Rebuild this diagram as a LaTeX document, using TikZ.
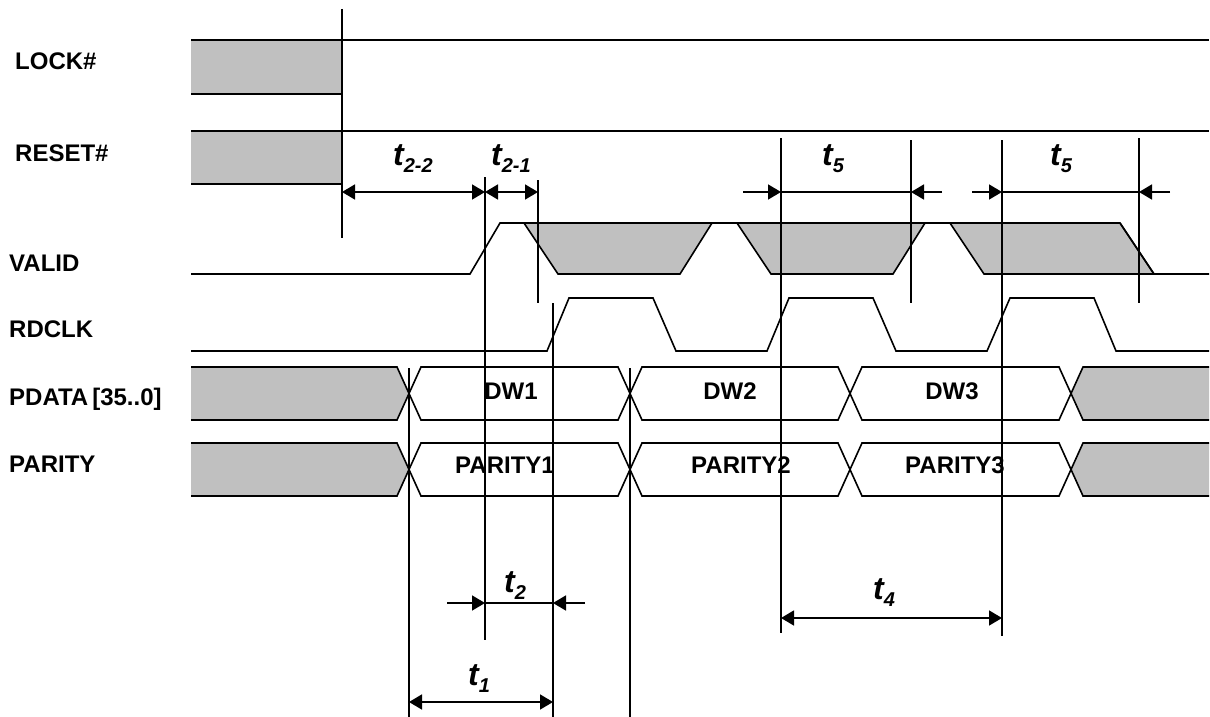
\documentclass[tikz,border=0pt]{standalone}
\usepackage{fontspec}
\setmainfont{Liberation Sans}
\usetikzlibrary{arrows.meta}
\definecolor{sig}{RGB}{192,192,192}
\newcommand{\tsym}[1]{t\raisebox{-7pt}{\fontsize{20}{21}\selectfont #1}}
\tikzset{
  wave/.style={line width=1.6pt, line join=miter},
  guide/.style={line width=1.6pt},
  dimboth/.style={line width=1.6pt, {Triangle[length=13pt,width=15pt]}-{Triangle[length=13pt,width=15pt]}},
  dimone/.style={line width=1.6pt, -{Triangle[length=13pt,width=15pt]}},
  dimline/.style={line width=1.6pt},
  siglabel/.style={anchor=base west, inner sep=0pt, font=\fontsize{24}{26}\selectfont\bfseries},
  buslabel/.style={anchor=base, inner sep=0pt, font=\fontsize{24}{26}\selectfont\bfseries},
  tlabel/.style={anchor=base west, inner sep=0pt, font=\fontsize{32}{34}\selectfont\bfseries\itshape},
}
\begin{document}
\begin{tikzpicture}[x=1pt,y=-1pt]
\useasboundingbox (0,0) rectangle (1210,717);

% ---------- signal labels
\node[siglabel] (lLOCK)  at (15,70)  {LOCK\#};
\node[siglabel] (lRESET) at (15,161) {RESET\#};
\node[siglabel] (lVALID) at (9,271)  {VALID};
\node[siglabel] (lRDCLK) at (9,337)  {RDCLK};
\node[siglabel] (lPDATA) at (9,405)  {PDATA\,[35..0]};
\node[siglabel] (lPAR)   at (9,472)  {PARITY};

% ---------- LOCK# and RESET#
\fill[sig] (191,40) rectangle (342,94);
\draw[wave] (191,94) -- (342,94);
\draw[wave] (191,40) -- (1209,40);
\fill[sig] (191,131) rectangle (342,184);
\draw[wave] (191,184) -- (342,184);
\draw[wave] (191,131) -- (1209,131);

% ---------- VALID
\filldraw[wave, fill=sig] (524,223) -- (558,274) -- (680,274) -- (712,223);
\filldraw[wave, fill=sig] (737,223) -- (771,274) -- (893,274) -- (925,223);
\filldraw[wave, fill=sig] (950,223) -- (984,274) -- (1154,274) -- (1120,223);
\draw[wave] (191,274) -- (470,274) -- (500,223) -- (1120,223) -- (1154,274) -- (1209,274);

% ---------- RDCLK
\draw[wave] (191,351) -- (547,351) -- (569,298) -- (653,298) -- (676,351)
  -- (767,351) -- (789,298) -- (873,298) -- (896,351)
  -- (987,351) -- (1010,298) -- (1094,298) -- (1116,351) -- (1209,351);

% ---------- buses
\foreach \T/\B in {367/420, 443/496} {
  \pgfmathsetmacro{\M}{(\T+\B)/2}
  \fill[sig] (191,\T) -- (397,\T) -- (409,\M) -- (397,\B) -- (191,\B) -- cycle;
  \draw[wave] (191,\T) -- (397,\T) -- (409,\M) -- (397,\B) -- (191,\B);
  \foreach \a/\b in {409/630, 630/850, 850/1071} {
    \draw[wave] (\a,\M) -- (\a+12,\T) -- (\b-12,\T) -- (\b,\M) -- (\b-12,\B) -- (\a+12,\B) -- cycle;
  }
  \fill[sig] (1209,\T) -- (1083,\T) -- (1071,\M) -- (1083,\B) -- (1209,\B) -- cycle;
  \draw[wave] (1209,\T) -- (1083,\T) -- (1071,\M) -- (1083,\B) -- (1209,\B);
}
\node[buslabel] (dw1) at (511,399) {DW1};
\node[buslabel] (dw2) at (730,399) {DW2};
\node[buslabel] (dw3) at (952,399) {DW3};
\node[buslabel] (p1) at (505,473) {PARITY1};
\node[buslabel] (p2) at (741,473) {PARITY2};
\node[buslabel] (p3) at (955,473) {PARITY3};

% ---------- guide lines
\coordinate (g1t) at (342,9);    \coordinate (g1b) at (342,238);
\coordinate (g2t) at (485,177);  \coordinate (g2b) at (485,640);
\coordinate (g3t) at (538,180);  \coordinate (g3b) at (538,303);
\coordinate (g4t) at (553,303);  \coordinate (g4b) at (553,717);
\coordinate (g5t) at (409,368);  \coordinate (g5b) at (409,717);
\coordinate (g6t) at (630,368);  \coordinate (g6b) at (630,717);
\coordinate (g7t) at (781,138);  \coordinate (g7b) at (781,633);
\coordinate (g8t) at (911,140);  \coordinate (g8b) at (911,303);
\coordinate (g9t) at (1002,140); \coordinate (g9b) at (1002,636);
\coordinate (g10t) at (1139,138); \coordinate (g10b) at (1139,303);
\foreach \g in {g1,g2,g3,g4,g5,g6,g7,g8,g9,g10} {
  \draw[guide] (\g t) -- (\g b);
}

% ---------- dimension arrows
\coordinate (a22l) at (342,192); \coordinate (a22r) at (485,192);
\coordinate (a21r) at (538,192);
\draw[dimboth] (a22l) -- (a22r);
\draw[dimboth] (a22r) -- (a21r);

\coordinate (a5ao) at (743,192); \coordinate (a5al) at (781,192);
\coordinate (a5ar) at (911,192); \coordinate (a5ae) at (942,192);
\draw[dimone] (a5ao) -- (a5al);
\draw[dimline] (a5al) -- (a5ar);
\draw[dimone] (a5ae) -- (a5ar);

\coordinate (a5bo) at (972,192); \coordinate (a5bl) at (1002,192);
\coordinate (a5br) at (1139,192); \coordinate (a5be) at (1170,192);
\draw[dimone] (a5bo) -- (a5bl);
\draw[dimline] (a5bl) -- (a5br);
\draw[dimone] (a5be) -- (a5br);

\coordinate (a2o) at (447,603); \coordinate (a2l) at (485,603);
\coordinate (a2r) at (553,603); \coordinate (a2e) at (585,603);
\draw[dimone] (a2o) -- (a2l);
\draw[dimline] (a2l) -- (a2r);
\draw[dimone] (a2e) -- (a2r);

\coordinate (a1l) at (409,702); \coordinate (a1r) at (553,702);
\draw[dimboth] (a1l) -- (a1r);

\coordinate (a4l) at (781,618); \coordinate (a4r) at (1002,618);
\draw[dimboth] (a4l) -- (a4r);

% ---------- timing labels
\node[tlabel] (t22) at (393,165) {\tsym{2-2}};
\node[tlabel] (t21) at (491,165) {\tsym{2-1}};
\node[tlabel] (t5a) at (822,165) {\tsym{5}};
\node[tlabel] (t5b) at (1050,165) {\tsym{5}};
\node[tlabel] (t2) at (504,592) {\tsym{2}};
\node[tlabel] (t1) at (468,685) {\tsym{1}};
\node[tlabel] (t4) at (873,599) {\tsym{4}};
\end{tikzpicture}
\end{document}
